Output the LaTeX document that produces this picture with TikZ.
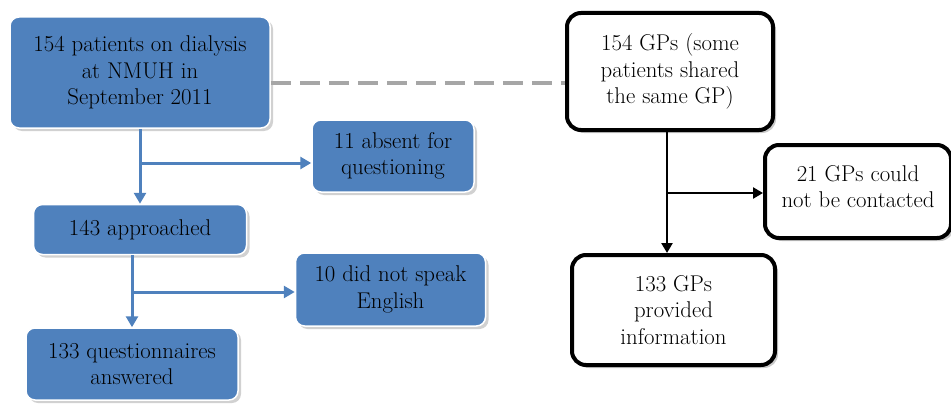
\documentclass[tikz,border=0pt]{standalone}
\usepackage{fontspec}
\usetikzlibrary{arrows.meta,shadows,calc}
\definecolor{boxblue}{HTML}{4F81BD}
\definecolor{dashgray}{HTML}{A6A6A6}
\begin{document}
\begin{tikzpicture}[x=1pt,y=-1pt,
  font=\fontsize{22.8}{26.5}\selectfont,
  bluebox/.style={rectangle, rounded corners=9pt, fill=boxblue, draw=white, line width=1.5pt,
    drop shadow={shadow xshift=3pt, shadow yshift=-3pt, fill=black!30, opacity=0.6},
    align=center, inner sep=0pt},
  blackbox/.style={rectangle, rounded corners=14pt, fill=white, draw=black, line width=4pt,
    drop shadow={shadow xshift=3pt, shadow yshift=-3pt, fill=black!35, opacity=0.6},
    align=center, inner sep=0pt},
  bluearrow/.style={draw=boxblue, line width=3pt, -{Triangle[length=11pt,width=12pt]}},
  blackarrow/.style={draw=black, line width=2.5pt, -{Triangle[length=10pt,width=11pt]}}
]
\useasboundingbox (0,0) rectangle (951,404);

% left column
\node[bluebox, minimum width=260pt, minimum height=111pt] (A) at (140,72.5)
  {154 patients on dialysis\\at NMUH in\\September 2011};
\node[bluebox, minimum width=162pt, minimum height=72pt] (B) at (393,156)
  {11 absent for\\questioning};
\node[bluebox, minimum width=213pt, minimum height=50pt] (C) at (140,229.5)
  {143 approached};
\node[bluebox, minimum width=190pt, minimum height=73pt] (D) at (390.5,289.5)
  {10 did not speak\\English};
\node[bluebox, minimum width=212pt, minimum height=72pt] (E) at (132,364)
  {133 questionnaires\\answered};

% right column
\node[blackbox, minimum width=206pt, minimum height=117pt] (F) at (670,71.5)
  {154 GPs (some\\patients shared\\the same GP)};
\node[blackbox, minimum width=186pt, minimum height=93pt, text depth=10pt] (G) at (858,191.5)
  {21 GPs could\\not be contacted};
\node[blackbox, minimum width=203pt, minimum height=110pt] (H) at (673.5,310)
  {133 GPs\\provided\\information};

% dashed link
\coordinate (dy) at (0,83);
\draw[dashgray, line width=3.5pt, dash pattern=on 20pt off 9pt] (A.east |- dy) -- (F.west |- dy);

% left connectors
\coordinate (j1) at (140,163);
\draw[bluearrow] (A.south) -- (C.north);
\draw[bluearrow] (j1) -- (j1 -| B.west);
\coordinate (j2) at (132,292);
\draw[bluearrow] (C.south -| E.north) -- (E.north);
\draw[bluearrow] (j2) -- (j2 -| D.west);

% right connectors
\coordinate (k0) at (667,0);
\coordinate (k1) at (667,193);
\draw[blackarrow] (F.south -| k0) -- (H.north -| k0);
\draw[blackarrow] (k1) -- (k1 -| G.west);
\end{tikzpicture}
\end{document}
